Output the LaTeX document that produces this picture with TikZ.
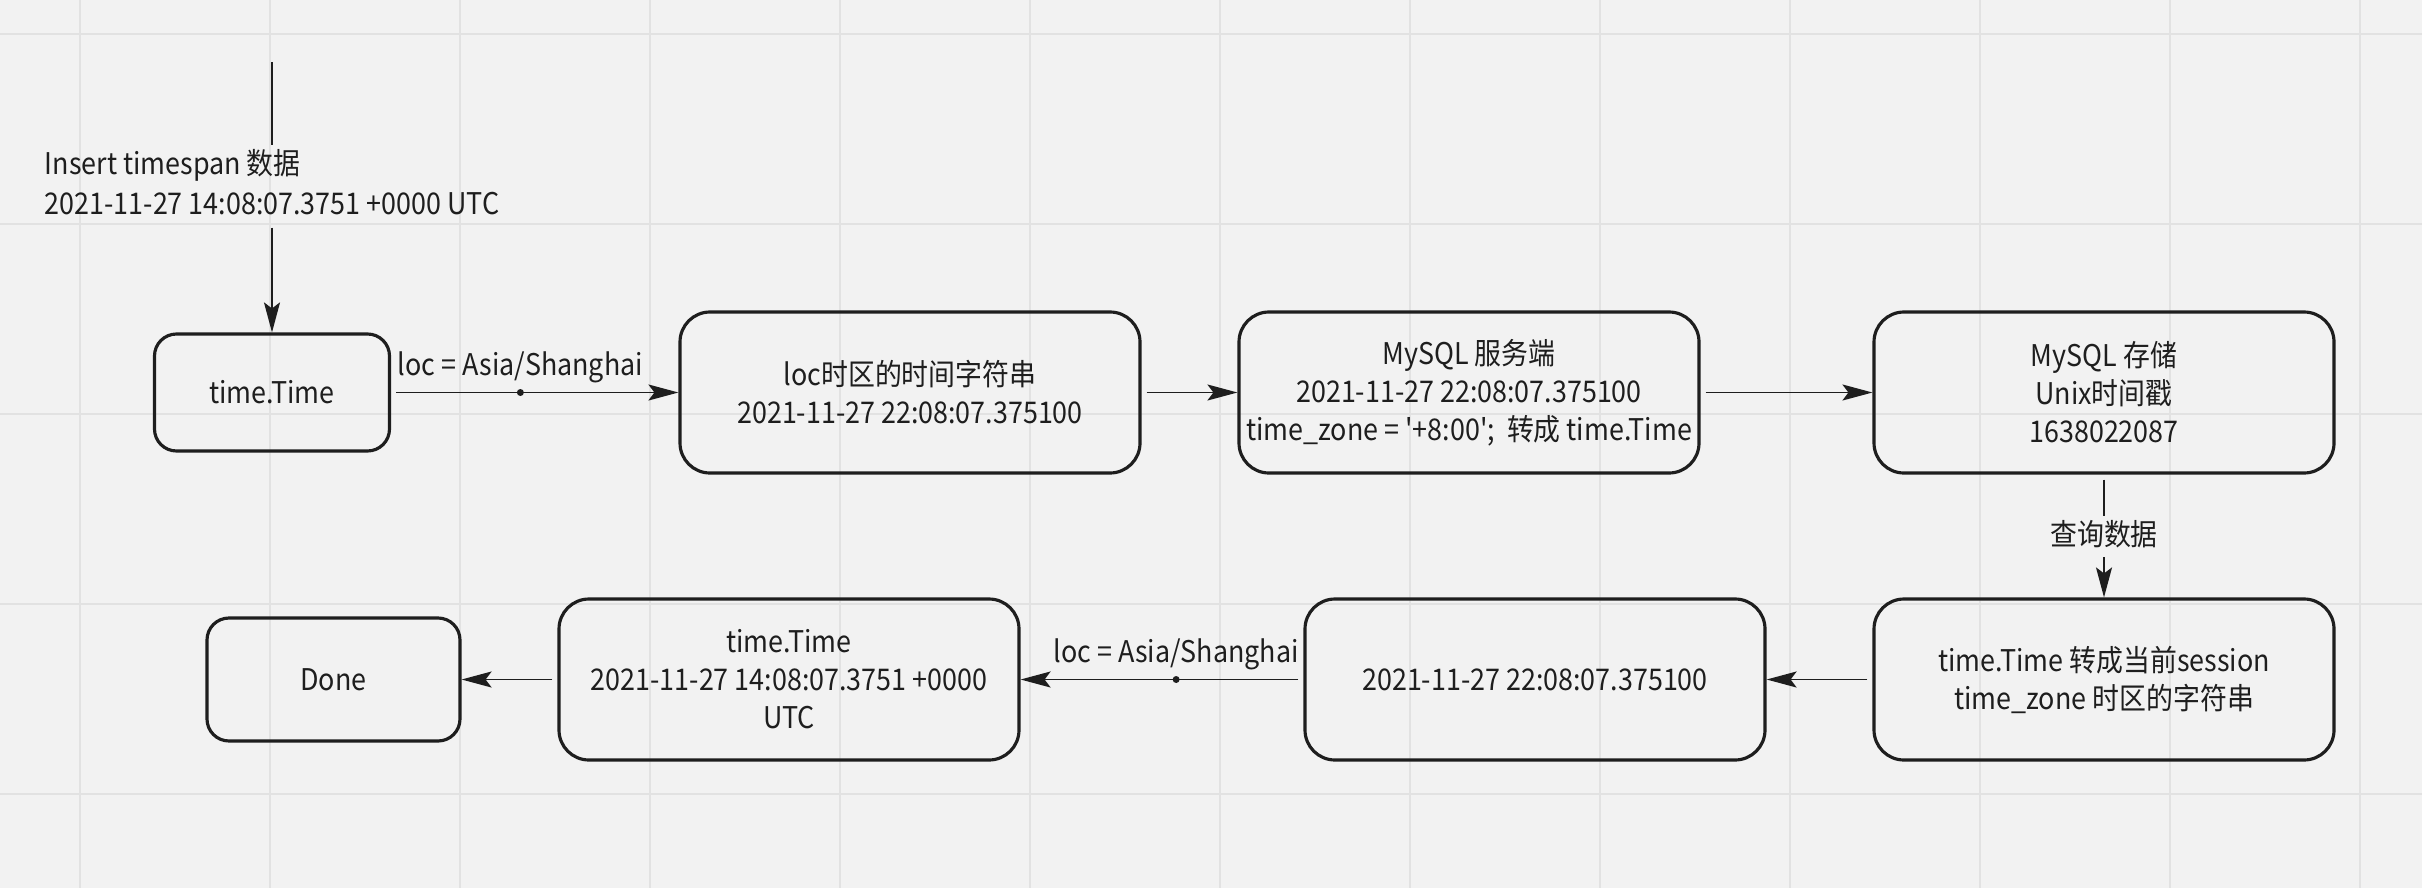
\documentclass[tikz,border=0pt]{standalone}
\usepackage{fontspec}
\newfontfamily\cnfont{Noto Sans CJK SC}[FakeStretch=0.9]
\usepackage{xcolor}
\usepackage{tikz}
\usetikzlibrary{arrows.meta}
\usetikzlibrary{shapes}

\definecolor{bgcol}{HTML}{F2F2F2}
\definecolor{gridcol}{HTML}{E2E2E2}
\definecolor{inkcol}{HTML}{1E1E1E}

\begin{document}
\begin{tikzpicture}[
        font=\cnfont\fontsize{8.5pt}{10.8pt}\selectfont,
        bigbox/.style={draw=inkcol, line width=0.9pt, rounded corners=3mm, minimum width=4.6cm, minimum height=1.61cm, inner xsep=1pt, align=center, text=inkcol},
        smallbox/.style={bigbox, rounded corners=2.2mm, minimum width=2.35cm, minimum height=1.17cm},
        link/.style={draw=inkcol, line width=0.55pt, shorten <=0.5mm},
        arr/.style={link, -{Stealth[length=3mm, width=1.6mm, inset=0.6mm]}},
        jointdot/.style={circle, fill=inkcol, inner sep=0pt, minimum size=0.7mm},
        lbl/.style={text=inkcol, inner sep=1pt}
    ]
            \useasboundingbox (0, 0) rectangle (24.22, 8.88);
        \fill[bgcol] (0, 0) rectangle (24.22, 8.88);
        \foreach \i in {0,...,12}
            \draw[gridcol, line width=0.6pt] ({0.8 + 1.9*\i}, 0) -- ({0.8 + 1.9*\i}, 8.88);
        \foreach \j in {0,...,4}
            \draw[gridcol, line width=0.6pt] (0, {0.94 + 1.9*\j}) -- (24.22, {0.94 + 1.9*\j});

        \node[smallbox] (tA) at (2.72, 4.955) {time.Time};
        \node[bigbox] (locStr) at (9.10, 4.955) {loc时区的时间字符串\\2021-11-27 22:08:07.375100};
        \node[bigbox] (server) at (14.69, 4.955) {MySQL 服务端\\2021-11-27 22:08:07.375100\\time\_zone = '+8:00';\ \ 转成 time.Time};
        \node[bigbox] (store) at (21.04, 4.955) {MySQL 存储\\Unix时间戳\\1638022087};
        \node[bigbox] (sessStr) at (21.04, 2.085) {time.Time 转成当前session\\time\_zone 时区的字符串};
        \node[bigbox] (zoneStr) at (15.35, 2.085) {2021-11-27 22:08:07.375100};
        \node[bigbox] (tB) at (7.89, 2.085) {time.Time\\2021-11-27 14:08:07.3751 +0000\\UTC};
        \node[smallbox, minimum width=2.53cm, minimum height=1.23cm] (done) at (3.335, 2.085) {Done};

        \coordinate (src) at (2.72, 8.26);
        \node[lbl, align=left, font=\cnfont\fontsize{8.5pt}{11.3pt}\selectfont] (insert) at (2.72, 7.06)
            {Insert timespan 数据\\2021-11-27 14:08:07.3751 +0000 UTC};
        \node[lbl] (query) at (21.04, 3.54) {查询数据};

        \draw[link, shorten <=0pt] (src) -- (insert.north -| src);
        \draw[arr, shorten <=2.5pt] (insert.south -| src) -- (tA);
        \draw[arr] (tA) -- node[pos=0.45, jointdot] {}
            node[lbl, pos=0.45, above=0.5mm] (locUp) {loc = Asia/Shanghai} (locStr);
        \draw[arr] (locStr) -- (server);
        \draw[arr] (server) -- (store);
        \draw[link] (store) -- (query);
        \draw[arr] (query) -- (sessStr);
        \draw[arr] (sessStr) -- (zoneStr);
        \draw[arr] (zoneStr) -- node[pos=0.45, jointdot] {}
            node[lbl, pos=0.45, above=0.5mm] (locDown) {loc = Asia/Shanghai} (tB);
        \draw[arr] (tB) -- (done);
        \end{tikzpicture}
\end{document}
